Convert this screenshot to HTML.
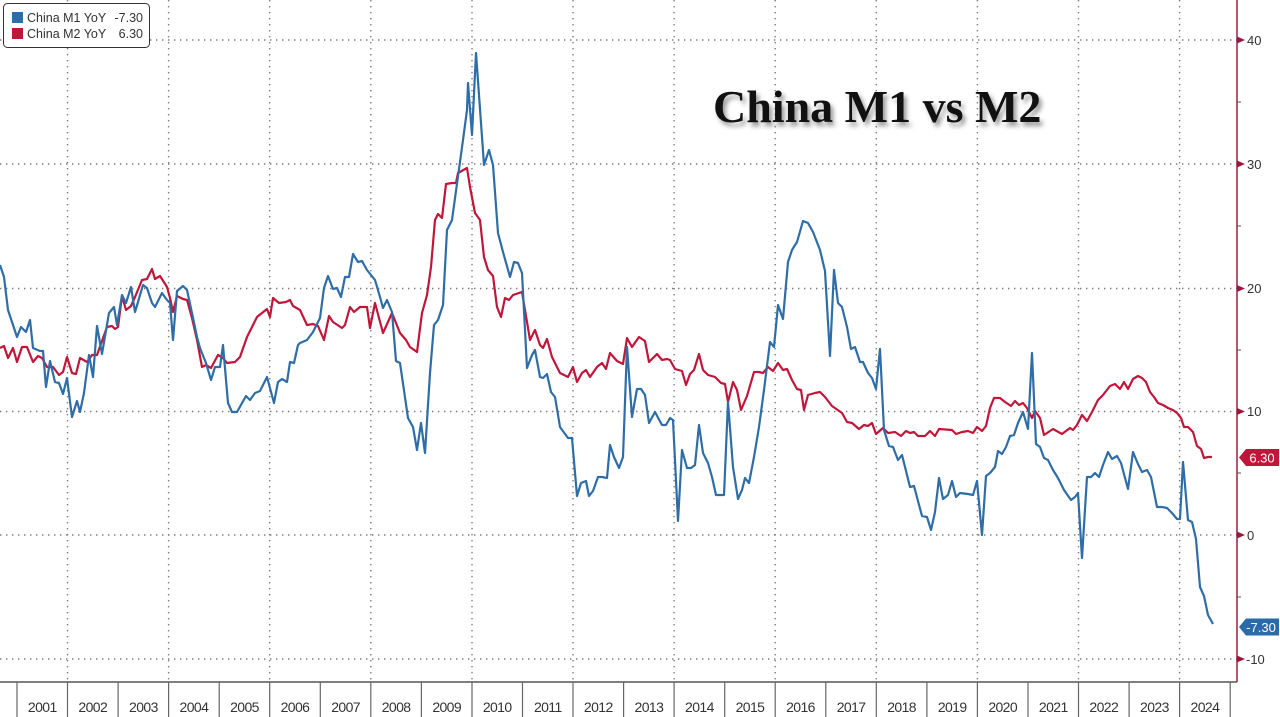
<!DOCTYPE html>
<html><head><meta charset="utf-8"><style>
html,body{margin:0;padding:0;background:#fff;}
svg{display:block;}
</style></head><body>
<svg width="1280" height="717" viewBox="0 0 1280 717" xmlns="http://www.w3.org/2000/svg" font-family="Liberation Sans, sans-serif">
<rect width="1280" height="717" fill="#fff"/>
<g stroke="#7a7a7a" stroke-width="1.4" stroke-dasharray="1.4 4.6" fill="none">
<line x1="0" y1="40" x2="1237" y2="40"/>
<line x1="0" y1="164" x2="1237" y2="164"/>
<line x1="0" y1="288.5" x2="1237" y2="288.5"/>
<line x1="0" y1="411.5" x2="1237" y2="411.5"/>
<line x1="0" y1="535" x2="1237" y2="535"/>
<line x1="0" y1="659" x2="1237" y2="659"/>
<line x1="67.5" y1="0" x2="67.5" y2="682"/>
<line x1="168.6" y1="0" x2="168.6" y2="682"/>
<line x1="269.7" y1="0" x2="269.7" y2="682"/>
<line x1="370.8" y1="0" x2="370.8" y2="682"/>
<line x1="472" y1="0" x2="472" y2="682"/>
<line x1="573" y1="0" x2="573" y2="682"/>
<line x1="674.1" y1="0" x2="674.1" y2="682"/>
<line x1="775.2" y1="0" x2="775.2" y2="682"/>
<line x1="876.3" y1="0" x2="876.3" y2="682"/>
<line x1="977.4" y1="0" x2="977.4" y2="682"/>
<line x1="1078.5" y1="0" x2="1078.5" y2="682"/>
<line x1="1179.6" y1="0" x2="1179.6" y2="682"/>
</g>
<text x="713" y="122" font-family="Liberation Serif, serif" font-weight="bold" font-size="46" fill="#777" opacity="0.75" transform="translate(3,4)" style="filter:blur(2.5px)">China M1 vs M2</text>
<text x="713" y="122" font-family="Liberation Serif, serif" font-weight="bold" font-size="46" fill="#111">China M1 vs M2</text>
<polyline fill="none" stroke="#c0163a" stroke-width="2.2" stroke-linejoin="round" points="0,348 4,346 8,358 13,348 17,362 22,347 27,347 33,362 38,356 42,358 47,367 53,367 59,375 63,372 67,357 72,373 76,374 80,358 87,362 92,355 97,355 107,327 112,326 115,329 118,327 122,296 126,310 131,306 135,297 142,280 147,279 152,269 155,279 160,276 167,287 170,298 173,312 177,296 183,299 187,300 192,318 197,340 202,367 206,365 211,368 218,355 223,358 227,363 235,362 240,357 247,337 257,317 267,309 270,317 273,298 279,303 286,302 290,300 293,306 300,310 307,325 313,324 318,326 324,340 329,316 333,322 342,328 345,325 350,307 354,312 360,307 367,307 370,328 375,303 383,333 392,313 400,333 406,340 410,347 417,352 422,313 427,295 431,267 435,220 438,214 442,218 446,184 452,183 456,183 458,173 467,168 470,187 475,213 480,220 484,257 488,270 493,276 497,307 501,317 505,298 509,300 513,295 522,292 530,340 535,330 540,345 543,348 547,339 552,357 555,363 560,373 568,377 573,367 577,382 582,373 586,370 590,377 597,367 602,363 606,369 610,353 617,361 623,364 627,338 632,347 639,337 645,341 649,362 657,354 662,360 667,359 670,360 675,369 682,371 686,385 690,374 694,370 699,354 703,370 708,375 715,377 721,383 725,384 728,402 733,382 737,390 741,410 747,396 754,372 759,372 763,373 768,367 773,371 778,363 783,370 787,369 792,380 797,389 801,390 804,410 808,395 815,393 820,392 825,397 832,406 842,413 847,422 852,423 859,429 864,425 868,426 872,423 876,434 883,428 888,433 895,432 901,436 906,431 910,433 914,432 918,436 925,436 930,431 935,436 939,429 952,430 956,434 962,432 968,431 973,433 977,427 982,431 986,426 990,408 994,398 1000,398 1005,402 1011,406 1015,401 1019,405 1023,403 1027,408 1032,418 1035,411 1040,418 1044,435 1053,429 1062,434 1070,428 1073,430 1077,425 1082,415 1087,421 1092,412 1098,400 1103,395 1110,386 1115,384 1120,389 1124,382 1128,389 1133,379 1138,376 1142,378 1146,382 1150,392 1154,397 1158,403 1163,405 1168,408 1173,410 1177,413 1181,418 1184,427 1188,427 1193,432 1197,446 1201,449 1204,458 1208,457 1212,457"/>
<polyline fill="none" stroke="#2e6da6" stroke-width="2.2" stroke-linejoin="round" points="0,265 4,277 8,310 17,337 21,327 26,332 30,320 33,348 40,351 43,351 46,387 50,361 55,382 59,383 63,394 67,378 72,417 77,401 80,412 84,393 89,355 93,377 97,326 102,354 109,313 114,307 117,325 122,295 126,303 131,287 135,312 143,285 147,288 152,303 155,307 162,293 167,300 170,303 173,340 177,291 183,286 187,290 192,313 197,337 200,348 206,363 211,380 215,367 220,367 223,345 228,403 232,412 237,412 246,396 250,400 255,393 260,391 267,377 274,403 278,382 282,379 287,382 290,362 294,363 298,345 300,343 307,340 313,332 320,318 324,288 328,276 333,289 337,288 341,297 345,277 349,277 353,254 358,262 362,261 367,270 371,275 375,280 380,297 383,308 387,300 392,312 396,361 400,363 408,418 413,427 417,450 421,423 425,453 430,373 434,325 438,320 443,305 447,230 452,220 463,140 467,110 468,83 472,135 476,53 484,165 489,150 493,165 498,233 503,252 510,277 514,262 518,263 522,273 527,368 532,355 535,350 540,377 543,378 547,374 551,392 555,397 560,427 568,438 572,438 577,496 581,483 586,481 589,496 593,491 598,477 602,477 607,478 610,445 614,457 619,468 623,457 627,347 632,417 637,389 641,389 645,395 649,423 655,412 662,425 666,425 670,418 673,420 678,521 682,450 687,468 691,468 695,465 699,425 703,453 708,463 712,477 716,495 721,495 724,495 728,402 733,467 738,499 742,490 745,478 749,483 754,457 759,427 764,390 770,342 774,347 778,305 783,319 788,262 792,250 797,242 803,221 808,223 813,232 820,250 825,271 830,356 834,270 838,303 842,307 847,327 851,349 855,347 860,362 863,362 868,373 872,378 876,389 880,349 884,430 889,446 893,447 898,460 902,455 910,487 914,486 922,516 927,517 931,530 935,512 939,478 943,499 948,495 952,481 956,497 960,493 968,494 973,495 977,481 982,535 986,476 990,473 995,467 998,451 1002,454 1006,447 1010,436 1014,435 1018,423 1023,412 1028,429 1032,353 1036,444 1040,447 1044,458 1048,460 1053,470 1058,478 1064,490 1071,500 1075,497 1078,493 1082,558 1087,477 1091,477 1095,473 1099,477 1103,465 1108,452 1112,459 1117,456 1121,463 1128,489 1133,452 1138,464 1142,472 1147,470 1151,477 1157,507 1162,507 1167,508 1172,513 1177,519 1180,519 1183,462 1188,520 1192,522 1196,539 1200,587 1204,596 1208,615 1213,624"/>
<line x1="0" y1="682" x2="1237" y2="682" stroke="#555" stroke-width="1.5"/>
<g stroke="#666" stroke-width="1.2">
<line x1="17" y1="682" x2="17" y2="717"/><line x1="67.5" y1="682" x2="67.5" y2="717"/><line x1="118.1" y1="682" x2="118.1" y2="717"/><line x1="168.6" y1="682" x2="168.6" y2="717"/><line x1="219.2" y1="682" x2="219.2" y2="717"/><line x1="269.7" y1="682" x2="269.7" y2="717"/><line x1="320.3" y1="682" x2="320.3" y2="717"/><line x1="370.8" y1="682" x2="370.8" y2="717"/><line x1="421.4" y1="682" x2="421.4" y2="717"/><line x1="472" y1="682" x2="472" y2="717"/><line x1="522.5" y1="682" x2="522.5" y2="717"/><line x1="573" y1="682" x2="573" y2="717"/><line x1="623.6" y1="682" x2="623.6" y2="717"/><line x1="674.1" y1="682" x2="674.1" y2="717"/><line x1="724.7" y1="682" x2="724.7" y2="717"/><line x1="775.2" y1="682" x2="775.2" y2="717"/><line x1="825.8" y1="682" x2="825.8" y2="717"/><line x1="876.3" y1="682" x2="876.3" y2="717"/><line x1="926.9" y1="682" x2="926.9" y2="717"/><line x1="977.4" y1="682" x2="977.4" y2="717"/><line x1="1028" y1="682" x2="1028" y2="717"/><line x1="1078.5" y1="682" x2="1078.5" y2="717"/><line x1="1129.1" y1="682" x2="1129.1" y2="717"/><line x1="1179.6" y1="682" x2="1179.6" y2="717"/><line x1="1230.2" y1="682" x2="1230.2" y2="717"/>
</g>
<g font-size="14" fill="#333" text-anchor="middle" letter-spacing="-0.6">
<text x="42.3" y="712">2001</text><text x="92.8" y="712">2002</text><text x="143.4" y="712">2003</text><text x="193.9" y="712">2004</text><text x="244.5" y="712">2005</text><text x="295" y="712">2006</text><text x="345.6" y="712">2007</text><text x="396.1" y="712">2008</text><text x="446.7" y="712">2009</text><text x="497.2" y="712">2010</text><text x="547.8" y="712">2011</text><text x="598.3" y="712">2012</text><text x="648.9" y="712">2013</text><text x="699.4" y="712">2014</text><text x="750" y="712">2015</text><text x="800.5" y="712">2016</text><text x="851.1" y="712">2017</text><text x="901.6" y="712">2018</text><text x="952.2" y="712">2019</text><text x="1002.7" y="712">2020</text><text x="1053.3" y="712">2021</text><text x="1103.8" y="712">2022</text><text x="1154.4" y="712">2023</text><text x="1204.9" y="712">2024</text>
</g>
<line x1="1237" y1="0" x2="1237" y2="682" stroke="#9b2040" stroke-width="1.5"/>
<g fill="#a0153e">
<polygon points="1237,36.5 1245,40 1237,43.5"/>
<polygon points="1237,160.5 1245,164 1237,167.5"/>
<polygon points="1237,285 1245,288.5 1237,292"/>
<polygon points="1237,408 1245,411.5 1237,415"/>
<polygon points="1237,531.5 1245,535 1237,538.5"/>
<polygon points="1237,655.5 1245,659 1237,662.5"/>
</g>
<g stroke="#555" stroke-width="1">
<line x1="1237" y1="102" x2="1241" y2="102"/>
<line x1="1237" y1="226" x2="1241" y2="226"/>
<line x1="1237" y1="350" x2="1241" y2="350"/>
<line x1="1237" y1="473" x2="1241" y2="473"/>
<line x1="1237" y1="597" x2="1241" y2="597"/>
</g>
<g font-size="13" fill="#333">
<text x="1247" y="45">40</text>
<text x="1247" y="169">30</text>
<text x="1247" y="293">20</text>
<text x="1247" y="416">10</text>
<text x="1247" y="540">0</text>
<text x="1246" y="664">-10</text>
</g>
<polygon points="1239,457.5 1246,449 1279,449 1279,466 1246,466" fill="#c0163a"/>
<text x="1262" y="462.5" font-size="13" fill="#fff" text-anchor="middle">6.30</text>
<polygon points="1239,627 1246,618.5 1279,618.5 1279,635.5 1246,635.5" fill="#2a6aa8"/>
<text x="1261" y="632" font-size="13" fill="#fff" text-anchor="middle">-7.30</text>
<rect x="3.5" y="3.5" width="146" height="44" rx="4" fill="#fff" stroke="#333" stroke-width="1"/>
<rect x="12" y="12" width="11" height="11" fill="#2e6da6"/>
<rect x="12" y="28" width="11" height="11" fill="#c0163a"/>
<g font-size="12.5" fill="#333">
<text x="27" y="22">China M1 YoY</text>
<text x="143" y="22" text-anchor="end">-7.30</text>
<text x="27" y="38">China M2 YoY</text>
<text x="143" y="38" text-anchor="end">6.30</text>
</g>
</svg>
</body></html>
